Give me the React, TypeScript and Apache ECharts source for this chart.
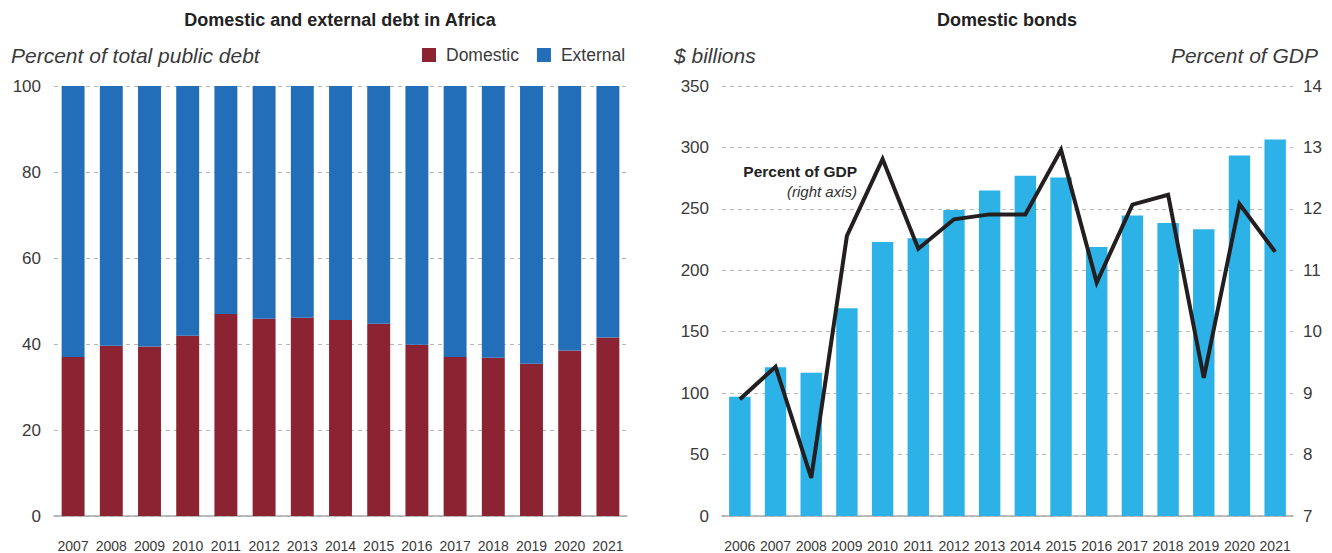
import React, { useEffect, useRef } from "react";
import * as echarts from "echarts";

const debtYears = ["2007","2008","2009","2010","2011","2012","2013","2014","2015","2016","2017","2018","2019","2020","2021"];
const domesticShare = [37.0, 39.6, 39.4, 41.9, 47.0, 45.9, 46.1, 45.6, 44.7, 39.8, 37.0, 36.8, 35.4, 38.5, 41.5];
const externalShare = [63.0, 60.4, 60.6, 58.1, 53.0, 54.1, 53.9, 54.4, 55.3, 60.2, 63.0, 63.2, 64.6, 61.5, 58.5];

const bondYears = ["2006","2007","2008","2009","2010","2011","2012","2013","2014","2015","2016","2017","2018","2019","2020","2021"];
const bondsBillions = [97, 121, 116.5, 169, 223, 226, 249, 265, 277, 275.5, 219, 244.5, 238.5, 233.5, 293.5, 306.5];
const bondsPctGdp = [8.9, 9.43, 7.62, 11.56, 12.81, 11.35, 11.83, 11.91, 11.91, 12.96, 10.8, 12.07, 12.23, 9.25, 12.08, 11.3];

const FONT = "'Liberation Sans', Arial, Helvetica, sans-serif";
const TXT = "#3a3a3a";
const C_DOM = "#8B2332";
const C_EXT = "#236EB8";
const C_BOND = "#2DB2E8";
const C_LINE = "#231F20";

export default function App() {
  const ref = useRef<HTMLDivElement>(null);
  useEffect(() => {
    if (!ref.current) return;
    const chart = echarts.init(ref.current, null, { renderer: "svg" });
    const gridLine = { show: true, lineStyle: { color: "#b8b8b8", type: [4, 4] as any, width: 1 } };
    const axisLine = { show: true, lineStyle: { color: "#a8a8a8", width: 1.5 } };
    const yLabel = { fontFamily: FONT, fontSize: 17, color: TXT, margin: 13 };
    const xLabel = { fontFamily: FONT, fontSize: 14, color: TXT, margin: 23, interval: 0 };
    chart.setOption({
      animation: false,
      textStyle: { fontFamily: FONT },
      title: [
        { text: "Domestic and external debt in Africa", left: 340, top: 11, textAlign: "center", padding: 0,
          textStyle: { fontFamily: FONT, fontSize: 18, fontWeight: "bold", color: "#222" } },
        { text: "Domestic bonds", left: 1007, top: 11, textAlign: "center", padding: 0,
          textStyle: { fontFamily: FONT, fontSize: 18, fontWeight: "bold", color: "#222" } },
      ],
      legend: {
        data: ["Domestic", "External"],
        left: 422, top: 46, padding: 0,
        icon: "rect", itemWidth: 14, itemHeight: 14, itemGap: 18,
        textStyle: { fontFamily: FONT, fontSize: 17.5, color: TXT, padding: [0, 0, 0, 5] },
      },
      grid: [
        { left: 54, right: 705, top: 86, bottom: 37 },
        { left: 722, right: 39, top: 86, bottom: 37 },
      ],
      xAxis: [
        { type: "category", gridIndex: 0, data: debtYears, axisLine, axisTick: { show: false }, axisLabel: xLabel },
        { type: "category", gridIndex: 1, data: bondYears, axisLine, axisTick: { show: false }, axisLabel: xLabel },
      ],
      yAxis: [
        { type: "value", gridIndex: 0, min: 0, max: 100, interval: 20, axisLine: { show: false }, axisTick: { show: false }, splitLine: gridLine, axisLabel: yLabel },
        { type: "value", gridIndex: 1, min: 0, max: 350, interval: 50, axisLine: { show: false }, axisTick: { show: false }, splitLine: gridLine, axisLabel: yLabel },
        { type: "value", gridIndex: 1, position: "right", min: 7, max: 14, interval: 1, axisLine: { show: false }, axisTick: { show: false }, splitLine: { show: false }, axisLabel: { ...yLabel, margin: 10 } },
      ],
      series: [
        { name: "Domestic", type: "bar", stack: "debt", xAxisIndex: 0, yAxisIndex: 0, data: domesticShare, barWidth: "60%", itemStyle: { color: C_DOM } },
        { name: "External", type: "bar", stack: "debt", xAxisIndex: 0, yAxisIndex: 0, data: externalShare, barWidth: "60%", itemStyle: { color: C_EXT } },
        { name: "$ billions", type: "bar", xAxisIndex: 1, yAxisIndex: 1, data: bondsBillions, barWidth: "60%", itemStyle: { color: C_BOND } },
        { name: "Percent of GDP", type: "line", xAxisIndex: 1, yAxisIndex: 2, data: bondsPctGdp, symbol: "none", z: 5,
          lineStyle: { color: C_LINE, width: 4, join: "miter" } },
      ],
      graphic: [
        { type: "text", x: 11, y: 55, style: { text: "Percent of total public debt", font: `italic 21px ${FONT}`, fill: TXT, align: "left", verticalAlign: "middle" } },
        { type: "text", x: 674, y: 55, style: { text: "$ billions", font: `italic 21px ${FONT}`, fill: TXT, align: "left", verticalAlign: "middle" } },
        { type: "text", x: 1318, y: 55, style: { text: "Percent of GDP", font: `italic 21px ${FONT}`, fill: TXT, align: "right", verticalAlign: "middle" } },
        { type: "text", x: 857, y: 171, z: 10, style: { text: "Percent of GDP", font: `bold 15.5px ${FONT}`, fill: "#222", align: "right", verticalAlign: "middle" } },
        { type: "text", x: 857, y: 191, z: 10, style: { text: "(right axis)", font: `italic 15px ${FONT}`, fill: "#333", align: "right", verticalAlign: "middle" } },
      ],
    });
    return () => chart.dispose();
  }, []);
  return <div ref={ref} style={{ position: "fixed", left: 0, top: 0, width: 1332, height: 553, background: "#fff" }} />;
}
